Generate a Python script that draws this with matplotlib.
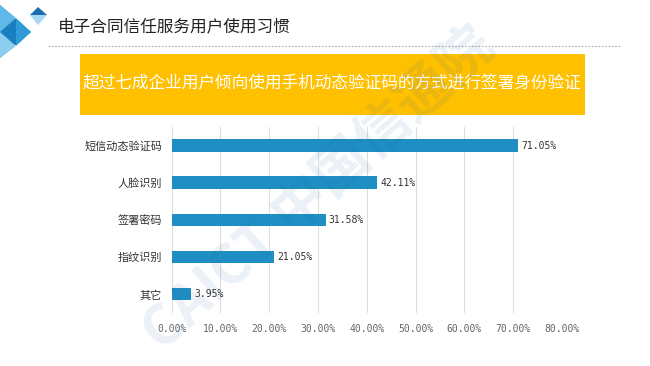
import matplotlib
matplotlib.use('Agg')
import matplotlib.pyplot as plt
from matplotlib.patches import Polygon, Rectangle
from matplotlib.lines import Line2D

plt.rcParams['font.family'] = ['Noto Sans CJK SC', 'DejaVu Sans']

# data
categories = ['短信动态验证码', '人脸识别', '签署密码', '指纹识别', '其它']
values = [71.05, 42.11, 31.58, 21.05, 3.95]
xticks = [0, 10, 20, 30, 40, 50, 60, 70, 80]

page_title = '电子合同信任服务用户使用习惯'
banner_text = '超过七成企业用户倾向使用手机动态验证码的方式进行签署身份验证'

W, H = 650, 366
fig = plt.figure(figsize=(W / 100, H / 100), dpi=100)
fig.patch.set_facecolor('white')

def fx(px):
    return px / W

def fy(py):
    return 1 - py / H

# top-left decoration
deco = [
    ([(0, 5), (31, 32), (0, 58)], '#1a7fc0'),
    ([(0, 5), (16, 18), (0, 32)], '#5fb8e8'),
    ([(16, 18), (31, 32), (16, 46)], '#2d9bd6'),
    ([(0, 32), (16, 46), (0, 58)], '#8ccdf0'),
    ([(30, 15), (38, 7), (47, 15)], '#1b6fb0'),
    ([(30, 15), (47, 15), (38, 25)], '#a9d8f2'),
]
for pts, col in deco:
    fig.patches.append(Polygon([(fx(x), fy(y)) for x, y in pts], closed=True,
                               transform=fig.transFigure, facecolor=col,
                               edgecolor='none'))

fig.text(fx(58), fy(27), page_title, fontsize=12, color='#222222',
         va='center', ha='left')
fig.lines.append(Line2D([fx(48), fx(620)], [fy(46), fy(46)],
                        transform=fig.transFigure, color='#aaaaaa',
                        lw=0.8, linestyle=(0, (1.5, 1.5))))

# yellow banner
fig.patches.append(Rectangle((fx(80), fy(115)), fx(585) - fx(80), fy(54) - fy(115),
                             transform=fig.transFigure, facecolor='#FFC000',
                             edgecolor='none'))
fig.text(fx(332), fy(84), banner_text, fontsize=12, color='white',
         ha='center', va='center')

# bar chart
ax = fig.add_axes([fx(171.7), fy(312.7), fx(562) - fx(171.7), fy(127) - fy(312.7)])
ypos = list(range(len(categories)))
ax.barh(ypos, values, height=0.34, color='#1F8FC3', zorder=3)
ax.set_ylim(len(categories) - 0.5, -0.5)
ax.set_xlim(0, 80)
ax.set_yticks(ypos)
ax.set_yticklabels(categories, fontsize=8, color='#333333')
ax.set_xticks(xticks)
ax.set_xticklabels(['%.2f%%' % t for t in xticks], fontsize=7,
                   color='#666666', family='DejaVu Sans Mono')
ax.tick_params(axis='both', length=0)
ax.tick_params(axis='x', pad=8)
ax.tick_params(axis='y', pad=7)
ax.grid(axis='x', color='#dddddd', lw=0.8, zorder=0)
for s in ax.spines.values():
    s.set_visible(False)
for y, v in zip(ypos, values):
    ax.text(v + 0.6, y, '%.2f%%' % v, va='center', ha='left', fontsize=7,
            color='#333333', family='DejaVu Sans Mono')

# watermark
fig.text(fx(320), fy(190), 'CAICT 中国信通院', fontsize=40, color='#1a5fa8',
         alpha=0.09, rotation=42, ha='center', va='center', fontweight='bold')

fig.savefig('out.png', dpi=100)
